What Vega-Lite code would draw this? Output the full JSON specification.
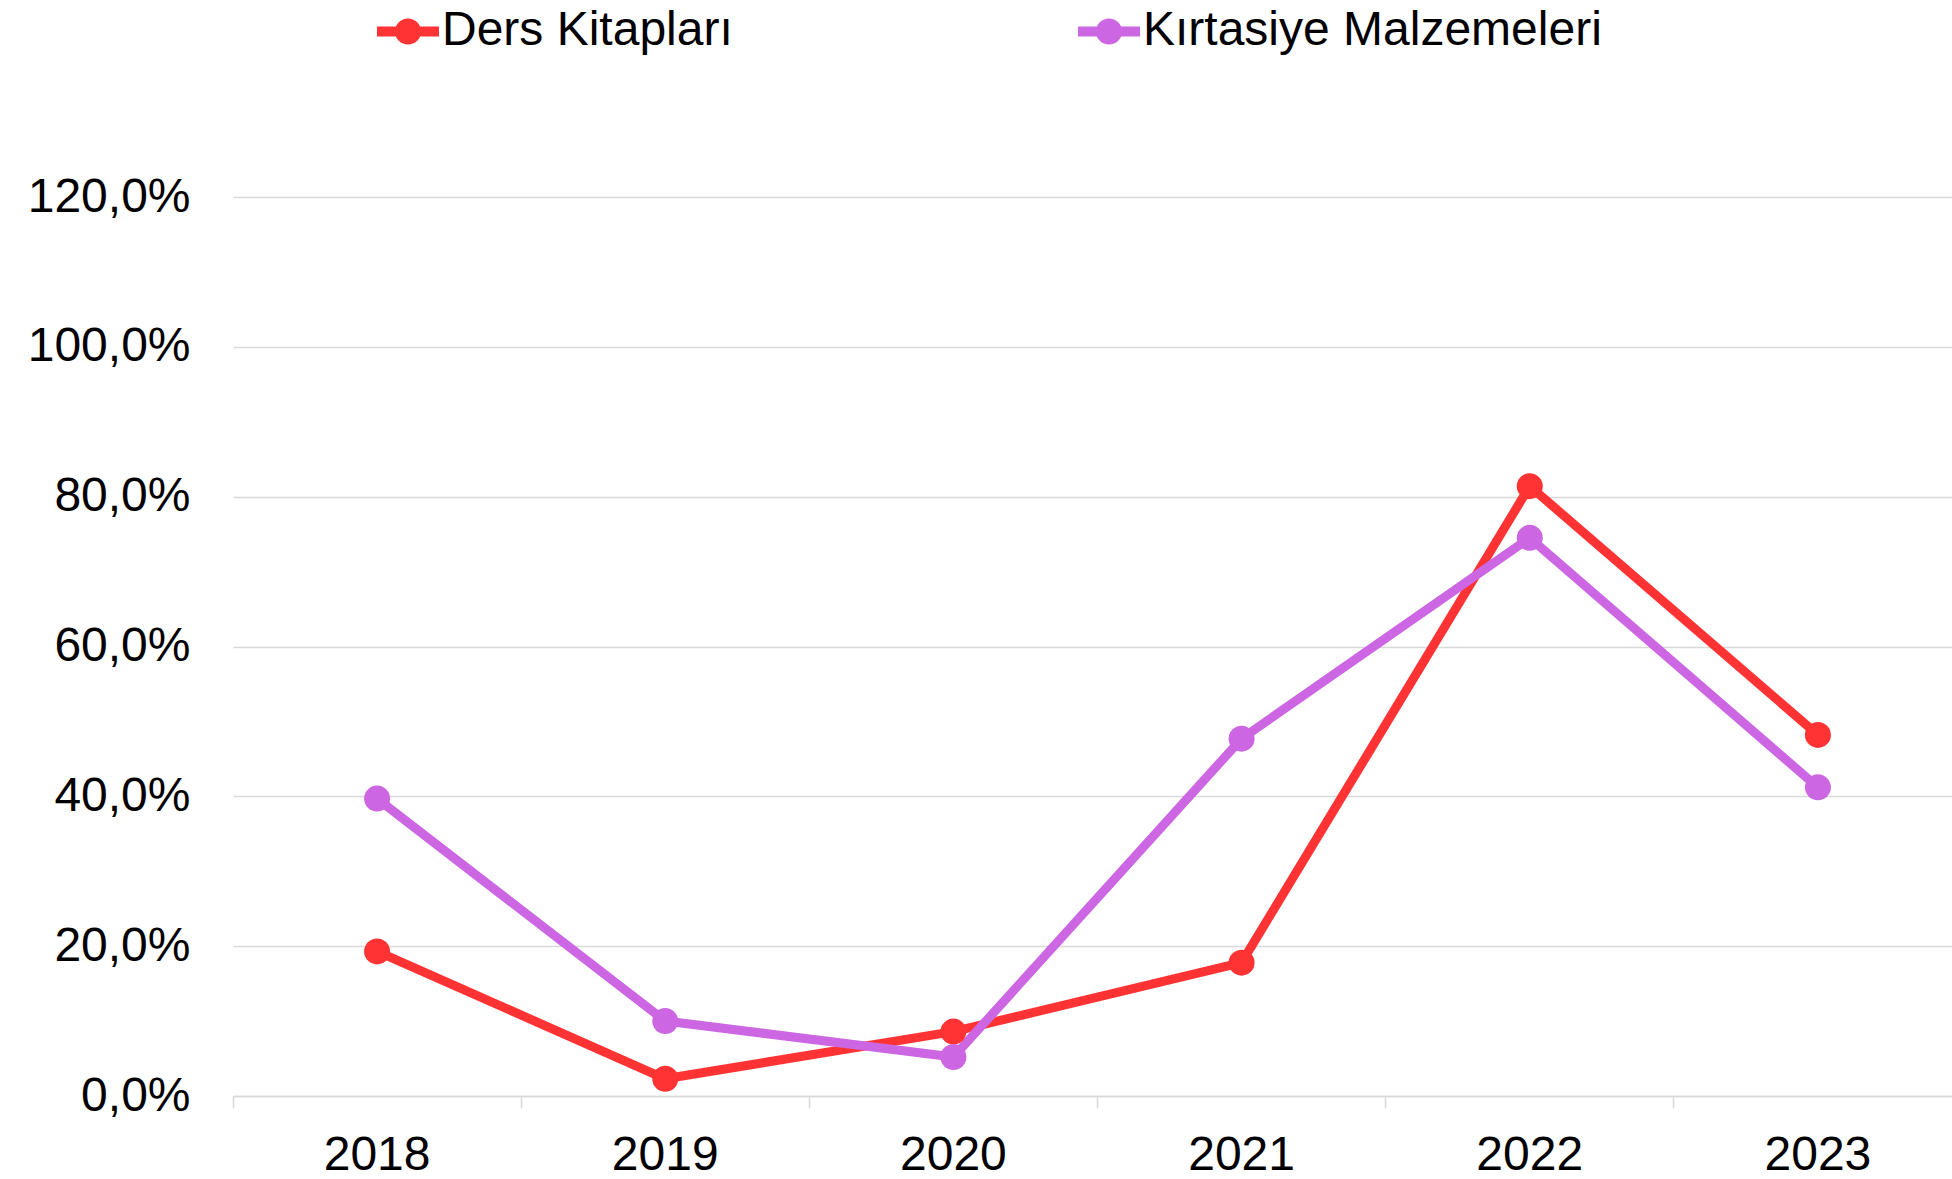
{
  "$schema": "https://vega.github.io/schema/vega-lite/v6.json",
  "autosize": {"type": "none"},
  "width": 1719,
  "height": 899,
  "padding": {"left": 233, "top": 197, "right": 0, "bottom": 83},
  "background": "white",
  "config": {"view": {"stroke": null}},
  "data": {
    "values": [
      {"year": "2018", "series": "Ders Kitapları", "value": 19.3},
      {"year": "2019", "series": "Ders Kitapları", "value": 2.3},
      {"year": "2020", "series": "Ders Kitapları", "value": 8.6},
      {"year": "2021", "series": "Ders Kitapları", "value": 17.8},
      {"year": "2022", "series": "Ders Kitapları", "value": 81.4},
      {"year": "2023", "series": "Ders Kitapları", "value": 48.2},
      {"year": "2018", "series": "Kırtasiye Malzemeleri", "value": 39.7},
      {"year": "2019", "series": "Kırtasiye Malzemeleri", "value": 10.0},
      {"year": "2020", "series": "Kırtasiye Malzemeleri", "value": 5.2},
      {"year": "2021", "series": "Kırtasiye Malzemeleri", "value": 47.7},
      {"year": "2022", "series": "Kırtasiye Malzemeleri", "value": 74.5},
      {"year": "2023", "series": "Kırtasiye Malzemeleri", "value": 41.2}
    ]
  },
  "encoding": {
    "x": {
      "field": "year", "type": "ordinal",
      "scale": {"type": "band", "paddingInner": 0, "paddingOuter": 0, "range": [0, 1729]},
      "axis": {
        "title": null, "labelAngle": 0, "bandPosition": 0,
        "domainColor": "#d9d9d9", "domainWidth": 1.5,
        "tickColor": "#d9d9d9", "tickWidth": 1.5, "tickSize": 12,
        "labelPadding": 23, "labelFontSize": 48, "labelColor": "#000000",
        "labelFont": "Liberation Sans", "grid": false,
        "labelBound": false, "labelOverlap": false
      }
    },
    "y": {
      "field": "value", "type": "quantitative",
      "scale": {"domain": [0, 120], "nice": false, "zero": true},
      "axis": {
        "title": null, "values": [0, 20, 40, 60, 80, 100, 120],
        "labelExpr": "replace(format(datum.value, '.1f'), '.', ',') + '%'",
        "domain": false, "ticks": false, "labelPadding": 43,
        "labelFontSize": 48, "labelColor": "#000000", "labelFont": "Liberation Sans",
        "grid": true, "gridColor": "#d9d9d9", "gridWidth": 1.5
      }
    },
    "color": {
      "field": "series", "type": "nominal",
      "scale": {"domain": ["Ders Kitapları", "Kırtasiye Malzemeleri"], "range": ["#ff3333", "#cc66e3"]},
      "legend": {
        "title": null, "orient": "none", "direction": "horizontal",
        "legendX": 139, "legendY": -202, "padding": 0,
        "symbolType": "M-1,0L1,0M0.26,0A0.26,0.26,0,1,1,-0.26,0A0.26,0.26,0,1,1,0.26,0Z",
        "symbolSize": 3844, "symbolStrokeWidth": 10,
        "labelFontSize": 48, "labelFont": "Liberation Sans", "labelColor": "#000000",
        "labelOffset": -2, "columnPadding": 325, "labelLimit": 1000
      }
    }
  },
  "layer": [
    {"mark": {"type": "line", "strokeWidth": 9, "strokeCap": "round", "strokeJoin": "round"}},
    {"mark": {"type": "circle", "size": 676, "opacity": 1}}
  ]
}
